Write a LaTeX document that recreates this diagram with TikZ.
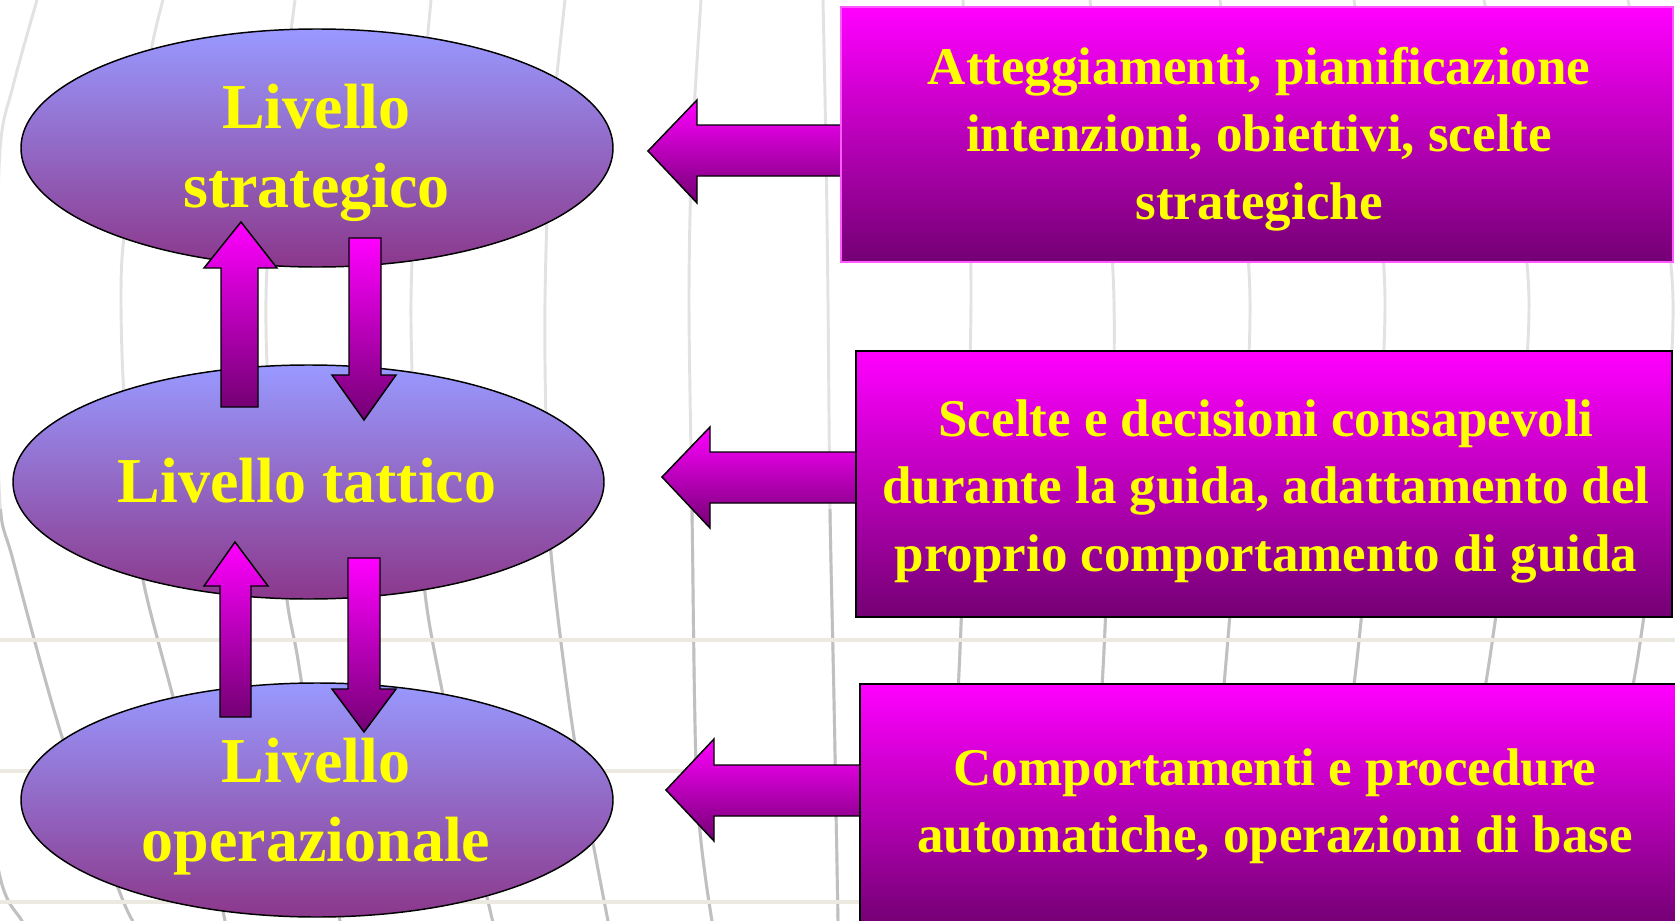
\documentclass[tikz,border=0pt]{standalone}
\usepackage{fontspec}
\setmainfont{Liberation Serif}
\usetikzlibrary{shapes.geometric}
\definecolor{lvtop}{RGB}{153,153,255}
\definecolor{lvbot}{RGB}{139,56,139}
\definecolor{mgtop}{RGB}{255,0,255}
\definecolor{mgbot}{RGB}{116,0,116}
\definecolor{gridup}{RGB}{226,226,226}
\definecolor{griddn}{RGB}{192,192,192}
\definecolor{gridh}{RGB}{236,233,225}
\definecolor{txtyellow}{RGB}{255,255,0}
\definecolor{pinkedge}{RGB}{255,90,255}
\newcommand{\mygridlines}{%
  \draw[vline] plot[smooth] coordinates {(-30,700) (0,877) (22,921) (30,940)};
  \draw[vline] plot[smooth] coordinates {(37,0) (13,86) (0,150) (-4,330) (0,503) (13,560) (63,740) (120,893) (133,921)};
  \draw[vline] plot[smooth] coordinates {(163,0) (152,46) (135,150) (123,246) (121,300) (123,378) (130,480) (143,580) (172,693) (200,800) (225,921)};
  \draw[vline] plot[smooth] coordinates {(295,0) (280,120) (267,268) (267,364) (275,480) (287,600) (298,660) (320,800) (340,921)};
  \draw[vline] plot[smooth] coordinates {(431,0) (418,150) (411,300) (415,450) (425,593) (442,690) (465,800) (490,910) (493,921)};
  \draw[vline] plot[smooth] coordinates {(565,0) (550,150) (545,300) (546,420) (551,553) (574,737) (608,921)};
  \draw[vline] plot[smooth] coordinates {(701,0) (692,150) (689,300) (692,510) (697,793) (712,921)};
  \draw[vline] plot[smooth] coordinates {(823,0) (826,150) (828,300) (830,510) (834,700) (838,921)};
  \draw[vline] plot[smooth] coordinates {(963,0) (971,300) (960,650) (945,921)};
  \draw[vline] plot[smooth] coordinates {(1090,0) (1114,300) (1104,650) (1085,921)};
  \draw[vline] plot[smooth] coordinates {(1220,0) (1250,300) (1227,650) (1200,921)};
  \draw[vline] plot[smooth] coordinates {(1354,0) (1385,300) (1358,650) (1320,921)};
  \draw[vline] plot[smooth] coordinates {(1484,0) (1529,300) (1491,650) (1440,921)};
  \draw[vline] plot[smooth] coordinates {(1628,0) (1673,300) (1639,650) (1580,921)};
}
\begin{document}
\begin{tikzpicture}[x=0.75pt,y=-0.75pt,
  level/.style={ellipse, draw=black, line width=1.1pt, top color=lvtop, bottom color=lvbot, inner sep=0pt},
  leveltext/.style={text=txtyellow, align=center, inner sep=0pt, font=\fontsize{48}{59.25}\selectfont\bfseries},
  infobox/.style={rectangle, draw=black, line width=1.5pt, top color=mgtop, bottom color=mgbot, inner sep=0pt},
  infotext/.style={text=txtyellow, align=center, inner sep=0pt, font=\fontsize{39.75}{50.6}\selectfont\bfseries},
  blockarrow/.style={draw=black, line width=1.1pt, top color=mgtop, bottom color=mgbot, line join=miter},
  vline/.style={line width=2.2pt},
  hline/.style={line width=2.4pt, draw=gridh},
]
\useasboundingbox (0,0) rectangle (1675,921);
\clip (0,0) rectangle (1675,921);
\fill[white] (0,0) rectangle (1675,921);

% background grid
\begin{scope}[gridup]
  \mygridlines
\end{scope}
\begin{scope}
  \clip (-40,509) rectangle (1720,960);
  \begin{scope}[griddn]
    \mygridlines
  \end{scope}
\end{scope}
\draw[hline] (0,640) -- (1675,640);
\draw[hline] (0,771) -- (1675,771);
\draw[hline] (0,902) -- (1675,902);

% levels
\node[level, minimum width=444pt, minimum height=178.5pt] (strat) at (317,148) {};
\node[level, minimum width=443.25pt, minimum height=175.5pt] (tatt) at (308.5,482) {};
\node[level, minimum width=444pt, minimum height=175.5pt] (oper) at (317,800) {};
\node[leveltext] (strat-t) at (316.5,152.5) {Livello\\strategico};
\node[leveltext] (tatt-t) at (307,481) {Livello tattico};
\node[leveltext] (oper-t) at (316,807) {Livello\\operazionale};

% vertical block arrows
\draw[blockarrow] (241,222) -- (277,268) -- (258,268) -- (258,407) -- (221,407) -- (221,268) -- (204,268) -- cycle;
\draw[blockarrow] (349,238) -- (381,238) -- (381,375) -- (396,375) -- (364,420) -- (332,375) -- (349,375) -- cycle;
\draw[blockarrow] (235,542) -- (268,586) -- (251,586) -- (251,717) -- (220,717) -- (220,586) -- (204,586) -- cycle;
\draw[blockarrow] (348,558) -- (380,558) -- (380,689) -- (396,689) -- (364,732) -- (332,689) -- (348,689) -- cycle;

% horizontal block arrows
\draw[blockarrow] (648,151) -- (697,100) -- (697,125) -- (841,125) -- (841,176) -- (697,176) -- (697,203) -- cycle;
\draw[blockarrow] (662,477) -- (710,427) -- (710,452) -- (856,452) -- (856,503) -- (710,503) -- (710,528) -- cycle;
\draw[blockarrow] (666,790) -- (714,739) -- (714,765) -- (860,765) -- (860,816) -- (714,816) -- (714,841) -- cycle;

% boxes
\node[infobox, draw=pinkedge, line width=1.1pt, minimum width=624pt, minimum height=191.25pt] (b1) at (1257,134.5) {};
\node[infobox, minimum width=612pt, minimum height=199.5pt] (b2) at (1264,484) {};
\node[infobox, minimum width=622.5pt, minimum height=180pt] (b3) at (1275,804) {};
\node[infotext] (b1-t) at (1259,139) {Atteggiamenti, pianificazione\\intenzioni, obiettivi, scelte\\strategiche};
\node[infotext] (b2-t) at (1266,491) {Scelte e decisioni consapevoli\\durante la guida, adattamento del\\proprio comportamento di guida};
\node[infotext] (b3-t) at (1275,806) {Comportamenti e procedure\\automatiche, operazioni di base};
\end{tikzpicture}
\end{document}
